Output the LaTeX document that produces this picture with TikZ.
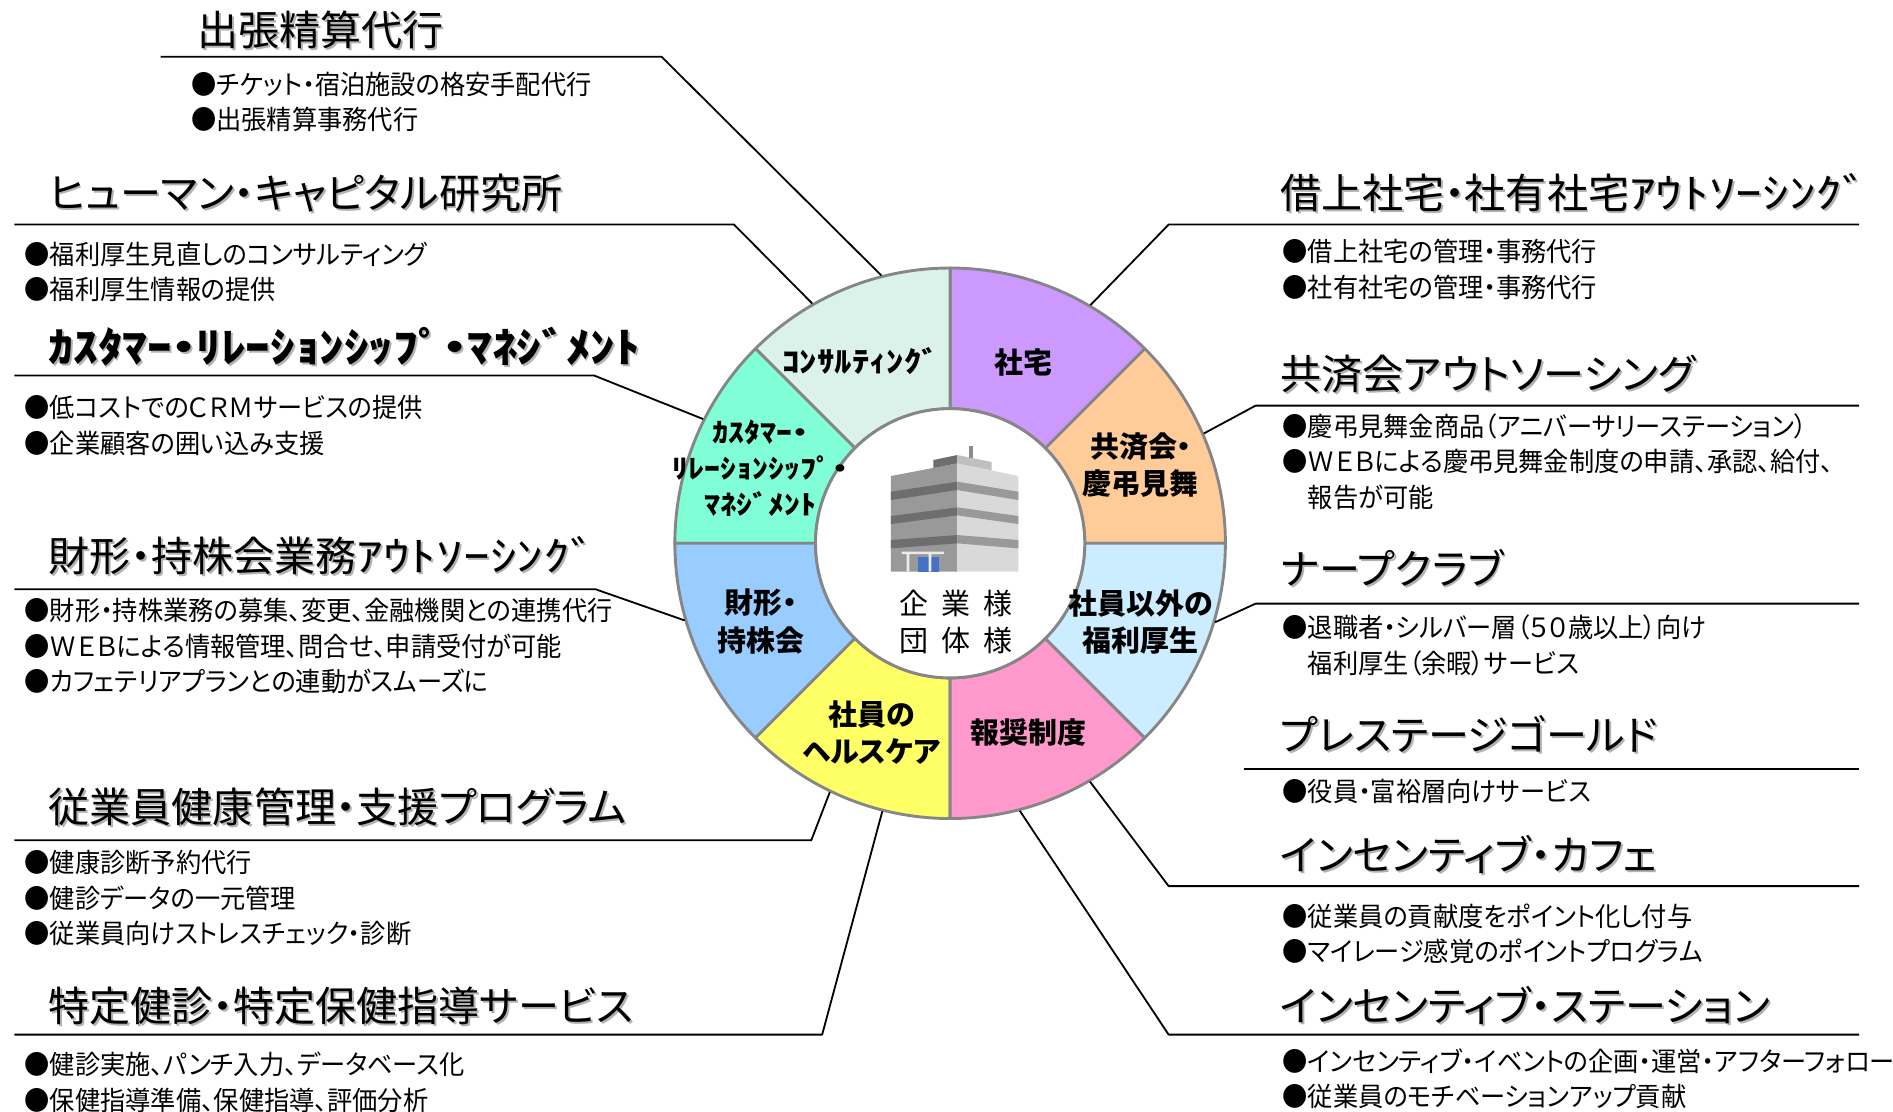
\documentclass[tikz,border=0pt]{standalone}
\usepackage{fontspec}
\setmainfont{Noto Sans CJK JP}[RawFeature=+palt]
\newfontfamily\narrow{Noto Sans CJK JP}[RawFeature=+palt,FakeStretch=0.95]
\newfontfamily\semiwide{Noto Sans CJK JP}[RawFeature=+palt,FakeStretch=1.2]
\newfontfamily\wide{Noto Sans CJK JP}[RawFeature=+palt,FakeStretch=1.3]
\usetikzlibrary{calc}
\definecolor{cons}{HTML}{DAF2E9}
\definecolor{house}{HTML}{CC99FF}
\definecolor{mutual}{HTML}{FFCC99}
\definecolor{retire}{HTML}{CCECFF}
\definecolor{reward}{HTML}{FF99CC}
\definecolor{health}{HTML}{FFFF66}
\definecolor{asset}{HTML}{99CCFF}
\definecolor{crm}{HTML}{80FFD6}
\definecolor{rim}{HTML}{868686}
\definecolor{door}{HTML}{4472C4}
\begin{document}
\begin{tikzpicture}[x=0.5pt,y=0.5pt,line join=round,
  ttl/.style={anchor=west,inner sep=0pt,font=\fontsize{17}{20}\selectfont},
  shd/.style={ttl,text=black!30},
  body/.style={anchor=north west,inner sep=0pt,align=left,font=\narrow\fontsize{11}{14.75}\selectfont},
  lbl/.style={align=center,inner sep=0pt,font=\bfseries\fontsize{12}{15.5}\selectfont},
  lnk/.style={line width=0.75pt}]
 \def\R{228} \def\r{111.5} % Bán kính vòng
 \useasboundingbox (0,0) rectangle (1568,-921);
 \coordinate (C) at (787,-450);
 % vòng tròn 8 phần
 \begin{scope}[shift={(C)}]
  \foreach \a/\c in {0/mutual,45/house,90/cons,135/crm,180/asset,225/health,270/reward,315/retire}
   \filldraw[fill=\c,draw=rim,line width=1.2pt] (\a:\r)--(\a:\R) arc[start angle=\a,delta angle=45,radius=\R]--({\a+45}:\r) arc[start angle=\a+45,delta angle=-45,radius=\r]--cycle;
  \filldraw[fill=white,draw=rim,line width=1.2pt] (0,0) circle[radius=\r];
 \end{scope}
 % tòa nhà
 \begin{scope}[shift={(720.6,-356.2)},scale=0.2761]
  \fill[black!40] (63,-138)--(262,-100)--(262,-425)--(63,-425)--cycle;
  \fill[black!15] (262,-100)--(445,-138)--(445,-425)--(262,-425)--cycle;
  \foreach \la/\lb/\ra/\rb in {185/210/155/180,258/282/232/256,330/355/315/340}{
   \fill[black!57] (63,-\la)--(262,-\ra)--(262,-\rb)--(63,-\lb)--cycle;
   \fill[black!40] (262,-\ra)--(445,-\la)--(445,-\lb)--(262,-\rb)--cycle;}
  \fill[black!57] (190,-90)--(262,-75)--(262,-100)--(190,-114)--cycle;
  \fill[black!25] (262,-75)--(365,-96)--(365,-121)--(262,-100)--cycle;
  \draw[black!45,line width=1.4pt] (303,-48)--(303,-84);
  \fill[door] (143,-380) rectangle (207,-425);
  \fill[black!8] (95,-365) rectangle (222,-372) (110,-372) rectangle (118,-425) (176,-372) rectangle (184,-425);
 \end{scope}
 \node[font=\fontsize{12}{15.5}\selectfont,align=center] (ctr) at (792,-515) {企\hspace{5.5pt}業\hspace{5.5pt}様\\団\hspace{5.5pt}体\hspace{5.5pt}様};
 % nhãn trong vòng
 \foreach \n/\x/\y/\t in {a/713/299/{\semiwide ｺﾝｻﾙﾃｨﾝｸﾞ},b/848/300/社宅,c/945/385/共済会・\\慶弔見舞,d/945/515/社員以外の\\福利厚生,
   e/852/607/報奨制度,f/722/607/社員の\\ヘルスケア,g/630/515/財形・\\持株会}
  \node[lbl] (s\n) at (\x,-\y) {\t};
 \node[lbl,font=\semiwide\bfseries\fontsize{11}{15}\selectfont] (sh) at (630,-388) {ｶｽﾀﾏｰ・\\ﾘﾚｰｼｮﾝｼｯﾌﾟ・\\ﾏﾈｼﾞﾒﾝﾄ};
 % tiêu đề
 \foreach \n/\x/\y/\t in {1/163/25/出張精算代行,2/40/160/ヒューマン・キャピタル研究所,3/40/287/{\semiwide\bfseries ｶｽﾀﾏｰ・ﾘﾚｰｼｮﾝｼｯﾌﾟ・ﾏﾈｼﾞﾒﾝﾄ},
   4/40/460/{財形・持株会業務\wide ｱｳﾄｿｰｼﾝｸﾞ},5/40/668/従業員健康管理・支援プログラム,6/40/833/特定健診・特定保健指導サービス,
   7/1060/160/{借上社宅・社有社宅\wide ｱｳﾄｿｰｼﾝｸﾞ},8/1060/310/共済会アウトソーシング,9/1060/470/ナープクラブ,
   10/1060/608/プレステージゴールド,11/1060/708/インセンティブ・カフェ,12/1060/833/インセンティブ・ステーション}{
  \node[shd] (h\n) at (\x+1.6,-\y-1.6) {\t};
  \node[ttl] (t\n) at (\x,-\y) {\t};}
 % nội dung
 \foreach \n/\x/\y/\t in {1/158/69/{●チケット・宿泊施設の格安手配代行\\●出張精算事務代行},
   2/20/210/{●福利厚生見直しのコンサルティング\\●福利厚生情報の提供},
   3/20/337/{●低コストでのＣＲＭサービスの提供\\●企業顧客の囲い込み支援},
   4/20/505/{●財形・持株業務の募集、変更、金融機関との連携代行\\●ＷＥＢによる情報管理、問合せ、申請受付が可能\\●カフェテリアプランとの連動がスムーズに},
   5/20/714/{●健康診断予約代行\\●健診データの一元管理\\●従業員向けストレスチェック・診断},
   6/20/881/{●健診実施、パンチ入力、データベース化\\●保健指導準備、保健指導、評価分析},
   7/1062/208/{●借上社宅の管理・事務代行\\●社有社宅の管理・事務代行},
   8/1062/352/{●慶弔見舞金商品（アニバーサリーステーション）\\●ＷＥＢによる慶弔見舞金制度の申請、承認、給付、\\\hphantom{●}報告が可能},
   9/1062/519/{●退職者・シルバー層（５０歳以上）向け\\\hphantom{●}福利厚生（余暇）サービス},
   10/1062/655/{●役員・富裕層向けサービス},
   11/1062/758/{●従業員の貢献度をポイント化し付与\\●マイレージ感覚のポイントプログラム},
   12/1062/878/{●インセンティブ・イベントの企画・運営・アフターフォロー\\●従業員のモチベーションアップ貢献}}
  \node[body] (b\n) at (\x,-\y+10) {\t};
 % đường nối bên trái
 \foreach \n/\xa/\xb/\y/\a in {1/133/548/47/104.4,2/12/608/186/119.9,3/12/492/311/153.3,4/12/493/488/196.2,5/12/672/696/244.2,6/12/681/857/255.8}{
  \coordinate (l\n) at (\xa,-\y); \coordinate (u\n) at (\xb,-\y);
  \coordinate (e\n) at ($(C)+(\a:\R+1)$);
  \draw[lnk] (l\n)--(u\n)--(e\n);}
 % đường nối bên phải
 \foreach \n/\xa/\xb/\y/\a in {7/968/1540/186/59.5,8/1040/1540/336/23.4,9/1040/1540/500/-16.6,11/968/1540/734/-59.6,12/968/1540/857/-75.4}{
  \coordinate (l\n) at (\xa,-\y); \coordinate (u\n) at (\xb,-\y);
  \coordinate (e\n) at ($(C)+(\a:\R+1)$);
  \draw[lnk] (e\n)--(l\n)--(u\n);}
 \coordinate (l10) at (1030,-637); \coordinate (u10) at (1540,-637);
 \draw[lnk] (l10)--(u10);
\end{tikzpicture}
\end{document}
